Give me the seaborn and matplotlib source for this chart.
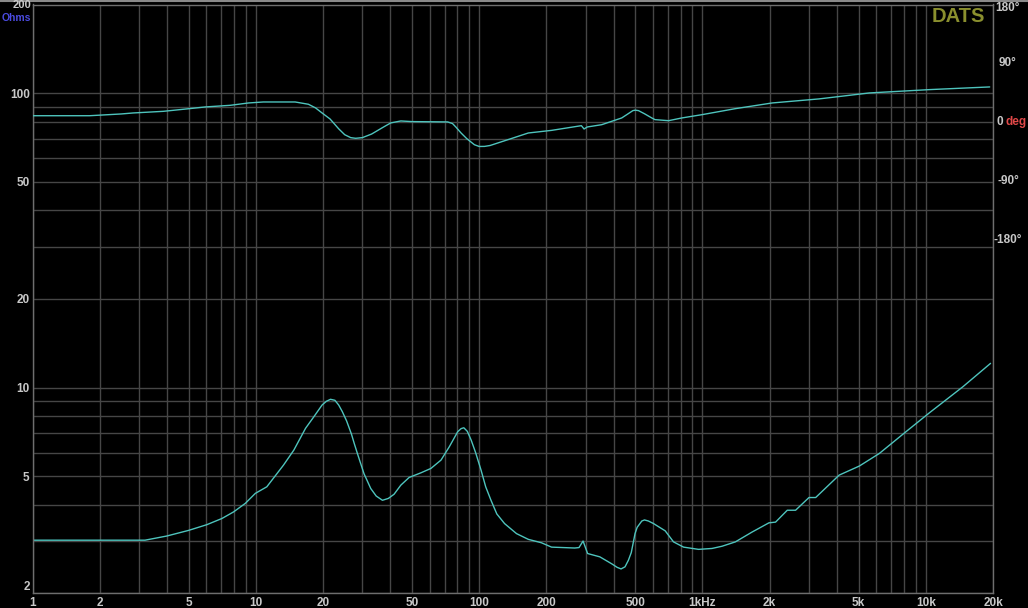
import matplotlib
matplotlib.use("Agg")
import pandas as pd
import matplotlib.pyplot as plt
import matplotlib.ticker as mticker
import matplotlib.transforms as mtransforms
from matplotlib.lines import Line2D
import seaborn as sns

# impedance magnitude (ohms) vs frequency (Hz)
imp_freq = [1, 3.19, 3.99, 4.99, 6.03, 7.05, 7.95, 8.97, 9.95, 11.2, 13.3, 14.8, 16.7,
            18.2, 19.8, 20.7, 21.6, 22.6, 23.5, 24.4, 25.5, 26.8, 27.6, 28.5, 30.5,
            32.7, 34.6, 36.9, 39.2, 41.6, 44.6, 48.6,
            54.8, 60.8, 67.5, 73.5, 80.2, 83.0, 85.4, 88.5, 92.1, 96.5, 102, 107, 113,
            120, 130, 147, 166, 190,
            211, 268, 280, 292, 306, 347, 392, 415, 432, 450, 466, 480, 499, 510, 535,
            550, 573, 604, 681,
            742, 823, 961, 1103, 1224, 1404, 1669, 1984, 2125, 2398, 2612, 3000,
            3214, 4093, 5038, 6194, 8157, 10390, 14660, 19500]
imp_ohms = [3.03, 3.03, 3.13, 3.27, 3.42, 3.59, 3.78, 4.04, 4.37, 4.6, 5.45, 6.13, 7.27,
            7.96, 8.72, 8.98, 9.12, 9.05, 8.72, 8.28, 7.7, 6.95, 6.45, 5.97, 5.1,
            4.54, 4.28, 4.14, 4.2, 4.34, 4.66, 4.95,
            5.13, 5.31, 5.67, 6.29, 7.08, 7.25, 7.3, 7.1, 6.63, 6.0, 5.24, 4.6, 4.14,
            3.72, 3.45, 3.19, 3.05, 2.97,
            2.87, 2.85, 2.86, 3.01, 2.73, 2.66, 2.52, 2.45, 2.42, 2.46, 2.59, 2.75, 3.19, 3.35, 3.52,
            3.55, 3.52, 3.45, 3.26,
            2.99, 2.87, 2.82, 2.84, 2.89, 2.99, 3.23, 3.47, 3.49, 3.83, 3.83, 4.23,
            4.23, 5.04, 5.41, 5.97, 7.08, 8.21, 10.06, 12.08]

# impedance phase (degrees) vs frequency (Hz)
ph_freq = [1, 1.8, 2.5, 2.82, 3.85, 4.91, 5.93, 7.68, 9.28, 10.8, 15.0, 17.2, 18.5,
           19.8, 21.5, 23.5, 25.0, 26.6, 28.0, 30.0, 33.0, 37.0, 40.2, 44.6, 50, 72.3,
           76, 79, 83.0, 88, 95.2, 100, 105.7, 112, 134.6, 166, 211,
           287, 295, 305, 354, 392, 435, 460, 488, 500, 517, 550, 593, 613, 705, 809,
           995, 1404, 2052, 3328, 5586, 10390, 19330]
ph_deg = [10, 10, 12.7, 14.2, 16.7, 20.4, 23.4, 25.9, 29.5, 31, 31, 27.5, 22,
          14.2, 5, -10, -19, -23.5, -24.5, -23.5, -18, -8, -1, 2, 1, 0.5,
          -2, -8, -16.4, -25, -34.3, -37, -36.9, -35.5, -26.6, -16.4, -12.4,
          -5.2, -10.3, -7.2, -3.7, 1.4, 6.6, 12, 17.8, 18.5, 17.8, 13, 6.6, 4, 2.4, 6.6,
          11.6, 20.8, 29.5, 35.7, 44.8, 49.9, 54]

x_ticks = [1, 2, 5, 10, 20, 50, 100, 200, 500, 1000, 2000, 5000, 10000, 20000]
x_labels = ["1", "2", "5", "10", "20", "50", "100", "200", "500", "1kHz", "2k", "5k", "10k", "20k"]
y_ticks = [2, 5, 10, 20, 50, 100]
y_labels = ["2", "5", "10", "20", "50", "100"]
ph_ticks = [174, 90, -90, -180]
ph_labels = ["180°", "90°", "-90°", "-180°"]

imp_df = pd.DataFrame({"freq": imp_freq, "ohms": imp_ohms})
ph_df = pd.DataFrame({"freq": ph_freq, "deg": ph_deg})

LINE = "#4ec4bd"
GRID = "#464646"
TXT = "#c8c8c8"

sns.set_theme(style="dark")
plt.rcParams["font.family"] = ["Liberation Sans", "DejaVu Sans"]

W, H = 1028, 608
fig = plt.figure(figsize=(W / 100, H / 100), dpi=100, facecolor="black")
ax = fig.add_axes([32.5 / W, (H - 593.3) / H, (993 - 32.5) / W, (593.3 - 4.5) / H])
ax.set_facecolor("black")

sns.lineplot(data=imp_df, x="freq", y="ohms", ax=ax, color=LINE, lw=1.0)
ax.set_xscale("log")
ax.set_yscale("log")
ax.set_xlim(1, 20000)
ax.set_ylim(2, 200)
ax.set_xlabel("")
ax.set_ylabel("")

ax.xaxis.set_major_locator(mticker.FixedLocator(x_ticks))
ax.xaxis.set_major_formatter(mticker.FixedFormatter(x_labels))
ax.xaxis.set_minor_locator(mticker.LogLocator(base=10, subs=range(1, 10), numticks=20))
ax.xaxis.set_minor_formatter(mticker.NullFormatter())
ax.yaxis.set_major_locator(mticker.FixedLocator(y_ticks))
ax.yaxis.set_major_formatter(mticker.FixedFormatter(y_labels))
ax.yaxis.set_minor_locator(mticker.LogLocator(base=10, subs=range(1, 10), numticks=20))
ax.yaxis.set_minor_formatter(mticker.NullFormatter())

ax.grid(True, which="both", color=GRID, lw=1.0)
ax.tick_params(which="both", length=0, colors=TXT, labelsize=8.5)
ax.tick_params(axis="x", pad=3)
ax.tick_params(axis="y", pad=2)
for lab in ax.get_xticklabels() + ax.get_yticklabels():
    lab.set_fontweight("bold")
ax.get_yticklabels()[0].set_va("bottom")
for sp in ax.spines.values():
    sp.set_color("#6e6e6e")
    sp.set_linewidth(1.0)

# phase on a second axis
ax2 = ax.twinx()
sns.lineplot(data=ph_df, x="freq", y="deg", ax=ax2, color=LINE, lw=1.0)
ax2.set_ylim(-720, 180)
ax2.set_yticks([])
ax2.set_ylabel("")
ax2.set_xlabel("")
for sp in ax2.spines.values():
    sp.set_visible(False)

trans = mtransforms.blended_transform_factory(ax.transAxes, ax2.transData)
for t, lab in zip(ph_ticks, ph_labels):
    ax2.text(1.0155, t, lab, transform=trans, ha="center", va="center",
             color=TXT, fontsize=8.5, fontweight="bold", clip_on=False)
ax2.text(1.0035, 0, "0", transform=trans, ha="left", va="center",
         color=TXT, fontsize=8.5, fontweight="bold", clip_on=False)
ax2.text(1.0135, 0, "deg", transform=trans, ha="left", va="center",
         color="#e04848", fontsize=8.5, fontweight="bold", clip_on=False)

# left-top labels
fig.text(31 / W, 1 - 0.5 / H, "200", ha="right", va="top", color=TXT,
         fontsize=8, fontweight="bold")
fig.text(31 / W, 1 - 13 / H, "Ohms", ha="right", va="top", color="#4b4be0",
         fontsize=7.5, fontweight="bold")
fig.text(985 / W, 1 - 7 / H, "DATS", ha="right", va="top", color="#8a8f2e",
         fontsize=14.5, fontweight="bold")

fig.add_artist(Line2D([0, 1], [1 - 1 / H, 1 - 1 / H], transform=fig.transFigure,
                      color="#8a8a8a", lw=1.5))

fig.savefig("out.png", dpi=100, facecolor="black")
